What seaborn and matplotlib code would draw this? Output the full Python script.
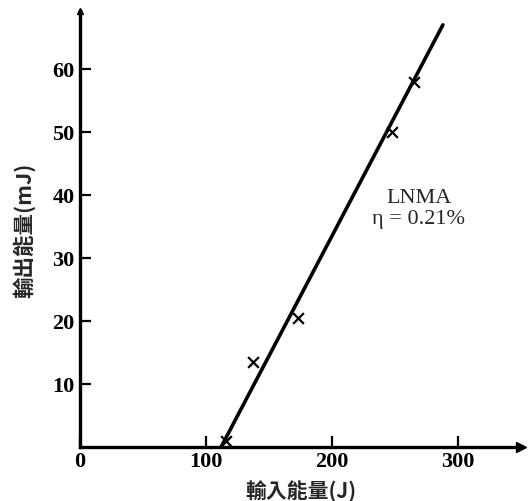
import matplotlib
matplotlib.use("Agg")
import matplotlib.pyplot as plt
import seaborn as sns
import pandas as pd

# data
input_energy = [116, 137, 173, 248, 265]          # J
output_energy = [1.0, 13.5, 20.5, 50.0, 58.0]      # mJ
fit_x = [112, 288]
fit_y = [0.0, 67.0]
x_ticks = [0, 100, 200, 300]
y_ticks = [10, 20, 30, 40, 50, 60]
x_label = "輸入能量(J)"
y_label = "輸出能量(mJ)"
annot_lines = ["LNMA", "η = 0.21%"]

sns.set_style("ticks")
plt.rcParams['font.family'] = ['Liberation Serif', 'Noto Sans CJK TC', 'DejaVu Sans']

pts = pd.DataFrame({"x": input_energy, "y": output_energy})
fit = pd.DataFrame({"x": fit_x, "y": fit_y})

fig = plt.figure(figsize=(5.28, 5.02), dpi=100)
ax = fig.add_axes([80/528, 1-448/502, 441/528, 436/502])

sns.lineplot(data=fit, x="x", y="y", ax=ax, color="black", linewidth=2.6)
sns.scatterplot(data=pts, x="x", y="y", ax=ax, marker="x", color="black",
                s=60, linewidth=1.6, zorder=5)

ax.set_xlim(0, 350)
ax.set_ylim(0, 69.2)
for s in ["top", "right"]:
    ax.spines[s].set_visible(False)
for s in ["left", "bottom"]:
    ax.spines[s].set_linewidth(2.4)
    ax.spines[s].set_color("black")

# arrowheads
ax.plot(1, 0, ">", color="black", markersize=7, transform=ax.transAxes, clip_on=False)
ax.plot(0, 1, "^", color="black", markersize=5, transform=ax.transAxes, clip_on=False)

ax.set_xticks(x_ticks)
ax.set_yticks(y_ticks)
ax.set_xticklabels([str(v) for v in x_ticks], fontsize=16, fontweight="bold")
ax.set_yticklabels([str(v) for v in y_ticks], fontsize=16, fontweight="bold")
ax.tick_params(direction="in", length=8, width=1.6, color="black", labelcolor="black")
ax.tick_params(axis="x", pad=3)
ax.tick_params(axis="y", pad=4)

ax.set_xlabel(x_label, fontsize=15, fontweight="bold",
              family=['Noto Sans CJK TC', 'DejaVu Sans'], labelpad=6)
ax.set_ylabel(y_label, fontsize=15.5, fontweight="bold",
              family=['Noto Sans CJK TC', 'DejaVu Sans'], labelpad=12)

ax.text(269, 39.6, annot_lines[0], ha="center", va="center", fontsize=16,
        family=['Liberation Serif', 'DejaVu Serif'])
ax.text(269, 36.2, annot_lines[1], ha="center", va="center", fontsize=16,
        family=['Liberation Serif', 'DejaVu Serif'])

fig.savefig("out.png", dpi=100)
